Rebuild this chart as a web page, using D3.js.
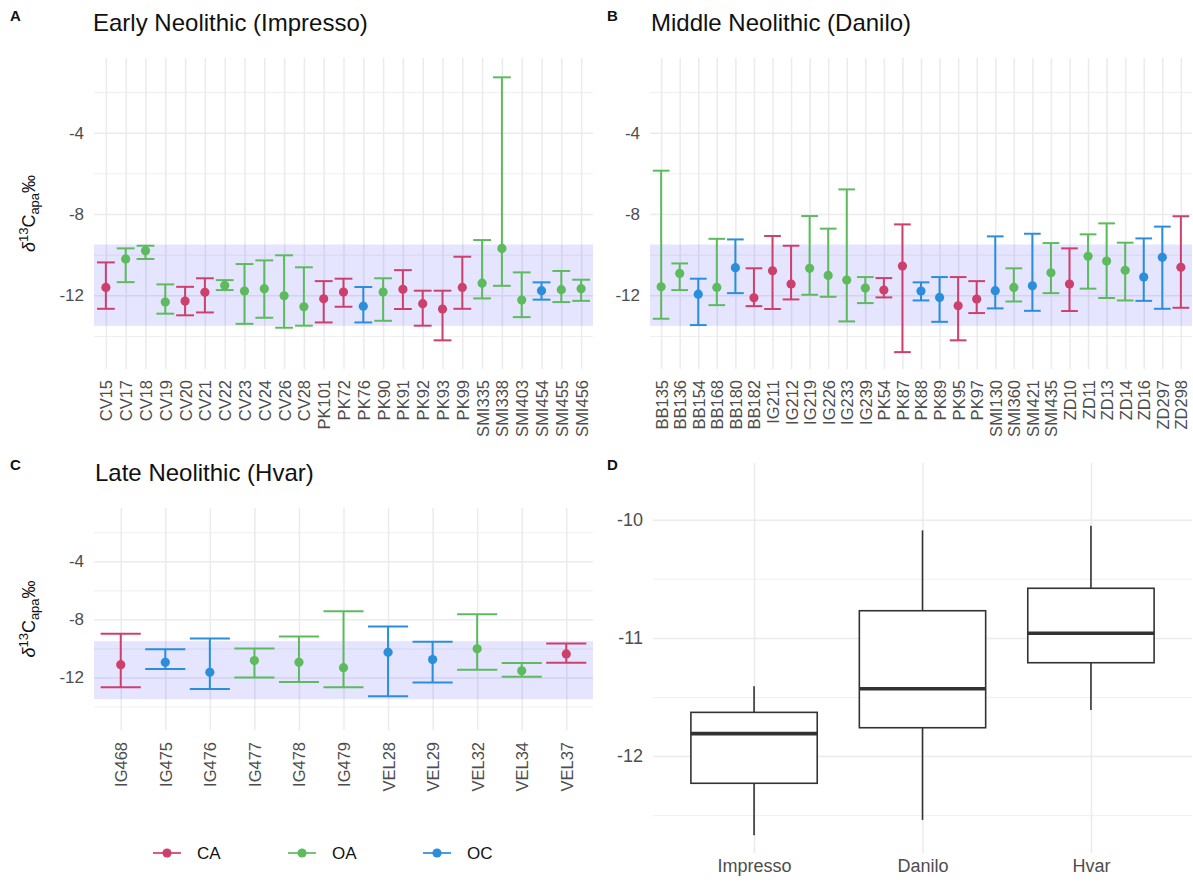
<!DOCTYPE html>
<html>
<head>
<meta charset="utf-8">
<script src="https://cdn.jsdelivr.net/npm/d3@7"></script>
<style>
  body { margin: 0; background: #fff; }
  svg text { font-family: "Liberation Sans", Arial, sans-serif; }
</style>
</head>
<body>
<svg id="chart"></svg>
<script>
// panel A - Early Neolithic (Impresso)
let samplesA = ['CV15','CV17','CV18','CV19','CV20','CV21','CV22','CV23','CV24','CV26','CV28','PK101','PK72','PK76','PK90','PK91','PK92','PK93','PK99','SMI335','SMI338','SMI403','SMI454','SMI455','SMI456']
let meanA = [-11.61,-10.21,-9.81,-12.33,-12.28,-11.85,-11.51,-11.79,-11.67,-12.02,-12.56,-12.17,-11.84,-12.53,-11.84,-11.70,-12.41,-12.67,-11.61,-11.40,-9.69,-12.23,-11.77,-11.72,-11.67]
let lowA  = [-12.66,-11.35,-10.21,-12.90,-12.98,-12.84,-11.74,-13.40,-13.10,-13.59,-13.49,-13.33,-12.56,-13.33,-13.25,-12.67,-13.49,-14.21,-12.66,-12.15,-11.53,-13.07,-12.21,-12.33,-12.27]
let highA = [-10.38,-9.69,-9.56,-11.46,-11.58,-11.16,-11.25,-10.46,-10.28,-10.03,-10.62,-11.30,-11.18,-11.59,-11.16,-10.76,-11.77,-11.77,-10.10,-9.28,-1.28,-10.87,-11.36,-10.80,-11.23]
let groupA = ['CA','OA','OA','OA','CA','CA','OA','OA','OA','OA','OA','CA','CA','OC','OA','CA','CA','CA','CA','OA','OA','OA','OC','OA','OA']

// panel B - Middle Neolithic (Danilo)
let samplesB = ['BB135','BB136','BB154','BB168','BB180','BB182','IG211','IG212','IG219','IG226','IG233','IG239','PK54','PK87','PK88','PK89','PK95','PK97','SMI130','SMI360','SMI421','SMI435','ZD10','ZD11','ZD13','ZD14','ZD16','ZD297','ZD298']
let meanB = [-11.58,-10.92,-11.94,-11.61,-10.64,-12.12,-10.79,-11.44,-10.67,-11.02,-11.25,-11.64,-11.74,-10.56,-11.79,-12.10,-12.51,-12.18,-11.77,-11.61,-11.53,-10.89,-11.44,-10.08,-10.31,-10.77,-11.10,-10.13,-10.62]
let lowB  = [-13.15,-11.74,-13.46,-12.48,-11.89,-12.53,-12.67,-12.20,-11.97,-12.07,-13.28,-12.38,-12.10,-14.79,-12.25,-13.30,-14.21,-12.87,-12.64,-12.30,-12.76,-11.89,-12.77,-11.67,-12.13,-12.25,-12.27,-12.66,-12.61]
let highB = [-5.87,-10.43,-11.18,-9.22,-9.25,-10.67,-9.08,-9.56,-8.10,-8.72,-6.79,-11.10,-11.15,-8.51,-11.36,-11.10,-11.10,-11.30,-9.10,-10.67,-8.97,-9.43,-9.69,-9.00,-8.46,-9.41,-9.20,-8.62,-8.11]
let groupB = ['OA','OA','OC','OA','OC','CA','CA','CA','OA','OA','OA','OA','CA','CA','OC','OC','CA','CA','OC','OA','OC','OA','CA','OA','OA','OA','OC','OC','CA']

// panel C - Late Neolithic (Hvar)
let samplesC = ['IG468','IG475','IG476','IG477','IG478','IG479','VEL28','VEL29','VEL32','VEL34','VEL37']
let meanC = [-11.12,-10.96,-11.65,-10.84,-10.96,-11.33,-10.27,-10.77,-10.03,-11.54,-10.38]
let lowC  = [-12.67,-11.42,-12.80,-12.00,-12.32,-12.67,-13.29,-12.35,-11.47,-11.95,-10.98]
let highC = [-8.99,-10.06,-9.32,-10.01,-9.18,-7.44,-8.50,-9.55,-7.65,-11.00,-9.66]
let groupC = ['CA','OC','OC','OA','OA','OA','OC','OC','OA','OA','CA']

// panel D - box plot summary per culture
let cultures = ['Impresso','Danilo','Hvar']
let whiskLow = [-12.67,-12.54,-11.61]
let q1 = [-12.23,-11.76,-11.21]
let median = [-11.81,-11.43,-10.96]
let q3 = [-11.63,-10.77,-10.58]
let whiskHigh = [-11.41,-10.09,-10.05]

let groups = ['CA','OA','OC']
let groupColors = ['#cd406c','#5dbb5e','#2a8edb']

let yTicks = [-12, -8, -4]
let yMinor = [-14, -10, -6, -2]
let bandRange = [-13.5, -9.5]
let boxTicks = [-12, -11, -10]
let boxMinor = [-12.5, -11.5, -10.5]

let width = 1193
let height = 883
let gridColor = '#ebebeb'
let textGray = '#4d4d4d'

// plain hyphen-minus, as in the original figure
let tickFmt = (d) => String(d)

let color = d3.scaleOrdinal().domain(groups).range(groupColors)

let svg = d3.select('#chart')
  .attr('width', width)
  .attr('height', height)

let zip = (s, m, l, h, g) => s.map((d, i) => ({ sample: d, mean: m[i], low: l[i], high: h[i], group: g[i] }))

let drawErrorPanel = (cfg) => {
  let rows = zip(cfg.samples, cfg.mean, cfg.low, cfg.high, cfg.group)
  let g = svg.append('g')

  let x = d3.scalePoint()
    .domain(cfg.samples)
    .range([cfg.left, cfg.right])
    .padding(0.6)
  let y = d3.scaleLinear()
    .domain([-15.62, -0.33])
    .range([cfg.bottom, cfg.top])

  // grid
  g.append('g')
    .attr('transform', 'translate(' + cfg.left + ',0)')
    .call(d3.axisLeft(y).tickValues(yMinor).tickSize(-(cfg.right - cfg.left)).tickFormat(''))
    .call(a => a.select('.domain').remove())
    .selectAll('line').attr('stroke', gridColor).attr('stroke-width', 0.8)
  g.append('g')
    .attr('transform', 'translate(' + cfg.left + ',0)')
    .call(d3.axisLeft(y).tickValues(yTicks).tickSize(-(cfg.right - cfg.left)).tickFormat(''))
    .call(a => a.select('.domain').remove())
    .selectAll('line').attr('stroke', gridColor).attr('stroke-width', 1.5)
  g.append('g')
    .attr('transform', 'translate(0,' + cfg.bottom + ')')
    .call(d3.axisBottom(x).tickSize(-(cfg.bottom - cfg.top)).tickFormat(''))
    .call(a => a.select('.domain').remove())
    .selectAll('line').attr('stroke', gridColor).attr('stroke-width', 1.5)

  // reference band
  g.append('rect')
    .attr('x', cfg.left)
    .attr('width', cfg.right - cfg.left)
    .attr('y', y(bandRange[1]))
    .attr('height', y(bandRange[0]) - y(bandRange[1]))
    .attr('fill', '#0000ff')
    .attr('fill-opacity', 0.1)

  let cap = x.step() * 0.9 / 2
  let bars = g.selectAll('.err').data(rows).enter().append('g').attr('class', 'err')
    .attr('stroke', d => color(d.group))
    .attr('stroke-width', 2)
  bars.append('line')
    .attr('x1', d => x(d.sample)).attr('x2', d => x(d.sample))
    .attr('y1', d => y(d.low)).attr('y2', d => y(d.high))
  bars.append('line')
    .attr('x1', d => x(d.sample) - cap).attr('x2', d => x(d.sample) + cap)
    .attr('y1', d => y(d.low)).attr('y2', d => y(d.low))
  bars.append('line')
    .attr('x1', d => x(d.sample) - cap).attr('x2', d => x(d.sample) + cap)
    .attr('y1', d => y(d.high)).attr('y2', d => y(d.high))
  g.selectAll('.pt').data(rows).enter().append('circle')
    .attr('cx', d => x(d.sample))
    .attr('cy', d => y(d.mean))
    .attr('r', 4.6)
    .attr('fill', d => color(d.group))

  // axes labels
  let ya = g.append('g')
    .attr('transform', 'translate(' + (cfg.left - 10) + ',0)')
    .call(d3.axisLeft(y).tickValues(yTicks).tickSize(0).tickPadding(0).tickFormat(tickFmt))
  ya.select('.domain').remove()
  ya.selectAll('text').attr('fill', textGray).style('font-size', '17px')

  let xa = g.append('g')
    .attr('transform', 'translate(0,' + cfg.labelTop + ')')
    .call(d3.axisBottom(x).tickSize(0).tickPadding(0))
  xa.select('.domain').remove()
  xa.selectAll('text')
    .attr('fill', textGray)
    .style('font-size', '16.5px')
    .attr('transform', 'rotate(-90)')
    .attr('x', 0)
    .attr('y', 0)
    .attr('dy', '0.36em')
    .style('text-anchor', 'end')

  svg.append('text')
    .attr('x', cfg.titleX).attr('y', cfg.titleY)
    .style('font-size', '24px').attr('fill', '#111')
    .text(cfg.title)
  svg.append('text')
    .attr('x', cfg.letterX).attr('y', cfg.letterY)
    .style('font-size', '15px').style('font-weight', 'bold').attr('fill', '#111')
    .text(cfg.letter)

  if (cfg.yLabel) {
    let t = svg.append('text')
      .attr('transform', 'translate(35,' + ((cfg.top + cfg.bottom) / 2) + ') rotate(-90)')
      .style('text-anchor', 'middle')
      .style('font-size', '18px')
      .attr('fill', '#111')
    t.append('tspan').style('font-style', 'italic').text('δ')
    t.append('tspan').attr('dy', -7).style('font-size', '13px').text('13')
    t.append('tspan').attr('dy', 7).text('C')
    t.append('tspan').attr('dy', 4).style('font-size', '13px').text('apa')
    t.append('tspan').attr('dy', -4).text('‰')
  }
}

drawErrorPanel({ samples: samplesA, mean: meanA, low: lowA, high: highA, group: groupA,
  left: 94, right: 593, top: 58, bottom: 369, labelTop: 380,
  title: 'Early Neolithic (Impresso)', titleX: 93, titleY: 31, letter: 'A', letterX: 10, letterY: 21, yLabel: true })

drawErrorPanel({ samples: samplesB, mean: meanB, low: lowB, high: highB, group: groupB,
  left: 650, right: 1192, top: 58, bottom: 369, labelTop: 380,
  title: 'Middle Neolithic (Danilo)', titleX: 651, titleY: 31, letter: 'B', letterX: 607, letterY: 21, yLabel: false })

drawErrorPanel({ samples: samplesC, mean: meanC, low: lowC, high: highC, group: groupC,
  left: 94, right: 593, top: 508, bottom: 730, labelTop: 742,
  title: 'Late Neolithic (Hvar)', titleX: 95, titleY: 481, letter: 'C', letterX: 10, letterY: 470, yLabel: true })

// legend
let legend = svg.append('g')
  .selectAll('g').data(groups).enter().append('g')
  .attr('transform', (d, i) => 'translate(' + (153 + i * 135) + ',853)')
legend.append('line')
  .attr('x1', 0).attr('x2', 28)
  .attr('stroke', d => color(d)).attr('stroke-width', 2).attr('stroke-opacity', 0.85)
legend.append('circle')
  .attr('cx', 14).attr('r', 4.6).attr('fill', d => color(d))
legend.append('text')
  .attr('x', 44).attr('dy', '0.36em')
  .style('font-size', '17px').attr('fill', '#111')
  .text(d => d)

// panel D - box plot
let boxRows = cultures.map((c, i) => ({ culture: c, lo: whiskLow[i], q1: q1[i], med: median[i], q3: q3[i], hi: whiskHigh[i] }))
let dLeft = 653, dRight = 1192, dTop = 463, dBottom = 853
let xD = d3.scalePoint().domain(cultures).range([dLeft, dRight]).padding(0.6)
let yD = d3.scaleLinear().domain([-12.82, -9.52]).range([dBottom, dTop])
let gD = svg.append('g')

gD.append('g')
  .attr('transform', 'translate(' + dLeft + ',0)')
  .call(d3.axisLeft(yD).tickValues(boxMinor).tickSize(-(dRight - dLeft)).tickFormat(''))
  .call(a => a.select('.domain').remove())
  .selectAll('line').attr('stroke', gridColor).attr('stroke-width', 0.8)
gD.append('g')
  .attr('transform', 'translate(' + dLeft + ',0)')
  .call(d3.axisLeft(yD).tickValues(boxTicks).tickSize(-(dRight - dLeft)).tickFormat(''))
  .call(a => a.select('.domain').remove())
  .selectAll('line').attr('stroke', gridColor).attr('stroke-width', 1.5)
gD.append('g')
  .attr('transform', 'translate(0,' + dBottom + ')')
  .call(d3.axisBottom(xD).tickSize(-(dBottom - dTop)).tickFormat(''))
  .call(a => a.select('.domain').remove())
  .selectAll('line').attr('stroke', gridColor).attr('stroke-width', 1.5)

let boxW = xD.step() * 0.75
let boxes = gD.selectAll('.box').data(boxRows).enter().append('g')
  .attr('stroke', '#333').attr('fill', 'white')
boxes.append('line')
  .attr('x1', d => xD(d.culture)).attr('x2', d => xD(d.culture))
  .attr('y1', d => yD(d.hi)).attr('y2', d => yD(d.q3))
  .attr('stroke-width', 1.6)
boxes.append('line')
  .attr('x1', d => xD(d.culture)).attr('x2', d => xD(d.culture))
  .attr('y1', d => yD(d.q1)).attr('y2', d => yD(d.lo))
  .attr('stroke-width', 1.6)
boxes.append('rect')
  .attr('x', d => xD(d.culture) - boxW / 2)
  .attr('width', boxW)
  .attr('y', d => yD(d.q3))
  .attr('height', d => yD(d.q1) - yD(d.q3))
  .attr('stroke-width', 1.6)
boxes.append('line')
  .attr('x1', d => xD(d.culture) - boxW / 2).attr('x2', d => xD(d.culture) + boxW / 2)
  .attr('y1', d => yD(d.med)).attr('y2', d => yD(d.med))
  .attr('stroke-width', 3.6)

let yaD = gD.append('g')
  .attr('transform', 'translate(' + (dLeft - 10) + ',0)')
  .call(d3.axisLeft(yD).tickValues(boxTicks).tickSize(0).tickPadding(0).tickFormat(tickFmt))
yaD.select('.domain').remove()
yaD.selectAll('text').attr('fill', textGray).style('font-size', '18px')

let xaD = gD.append('g')
  .attr('transform', 'translate(0,' + (dBottom + 6) + ')')
  .call(d3.axisBottom(xD).tickSize(0).tickPadding(0))
xaD.select('.domain').remove()
xaD.selectAll('text').attr('fill', textGray).style('font-size', '18px')

svg.append('text')
  .attr('x', 607).attr('y', 470)
  .style('font-size', '15px').style('font-weight', 'bold').attr('fill', '#111')
  .text('D')
</script>
</body>
</html>
